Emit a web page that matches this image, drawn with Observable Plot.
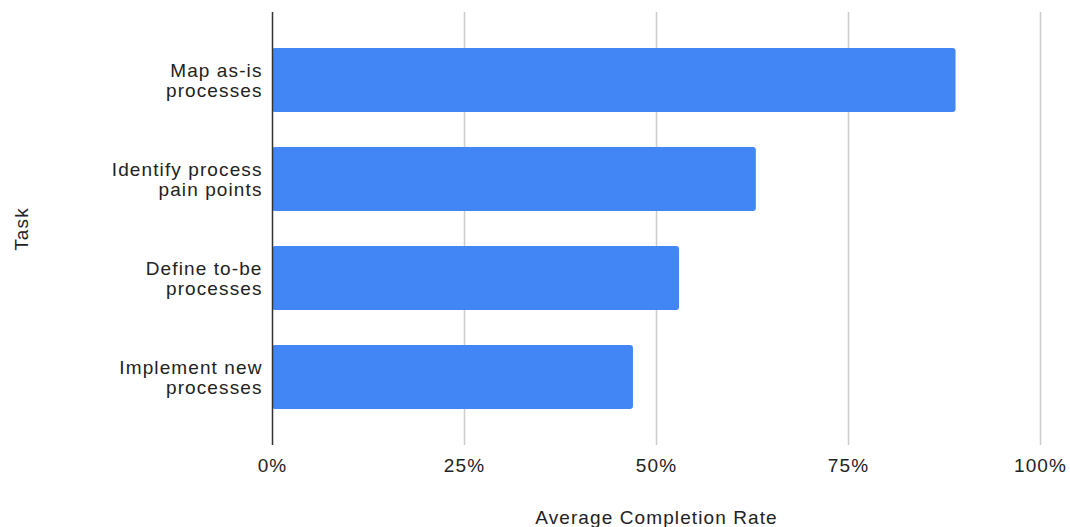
<!DOCTYPE html>
<html>
<head>
<meta charset="utf-8">
<script src="https://cdn.jsdelivr.net/npm/d3@7"></script>
<script src="https://cdn.jsdelivr.net/npm/@observablehq/plot@0.6"></script>
<style>
  html, body { margin: 0; padding: 0; background: #fff; }
  #chart svg { display: block; }
  #chart svg text { font-size: 19px !important; letter-spacing: 1.1px; fill: #222; }
</style>
</head>
<body>
<div id="chart"></div>
<script>
const tasks = ["Map as-is\nprocesses", "Identify process\npain points", "Define to-be\nprocesses", "Implement new\nprocesses"];
const rates = [0.89, 0.63, 0.53, 0.47];
const xTicks = [0, 0.25, 0.5, 0.75, 1];
const xTitle = "Average Completion Rate";
const yTitle = "Task";

const data = tasks.map((t, i) => ({task: t, rate: rates[i]}));

const chart = Plot.plot({
  width: 1070,
  height: 527,
  marginLeft: 272,
  marginRight: 30,
  marginTop: 12,
  marginBottom: 82,
  style: {fontFamily: "'Liberation Sans', Arial, sans-serif", fontSize: "19px", color: "#222", background: "#fff"},
  x: {domain: [0, 1], ticks: xTicks, tickFormat: d3.format(".0%")},
  y: {domain: tasks, padding: 0.355},
  marks: [
    Plot.ruleX(xTicks.filter(d => d > 0), {stroke: "#ccc", strokeWidth: 1.5, strokeOpacity: 1}),
    Plot.barX(data, {x: "rate", y: "task", fill: "#4285F4", rx: 3}),
    Plot.ruleX([0], {stroke: "#333", strokeWidth: 1.5}),
    Plot.axisX({ticks: xTicks, tickFormat: d3.format(".0%"), tickSize: 0, tickPadding: 13, label: xTitle, labelAnchor: "center", labelArrow: "none", labelOffset: 78}),
    Plot.axisY({tickSize: 0, tickPadding: 10, lineHeight: 1.08, label: yTitle, labelAnchor: "center", labelArrow: "none", labelOffset: 258})
  ]
});
document.getElementById("chart").appendChild(chart);
</script>
</body>
</html>
